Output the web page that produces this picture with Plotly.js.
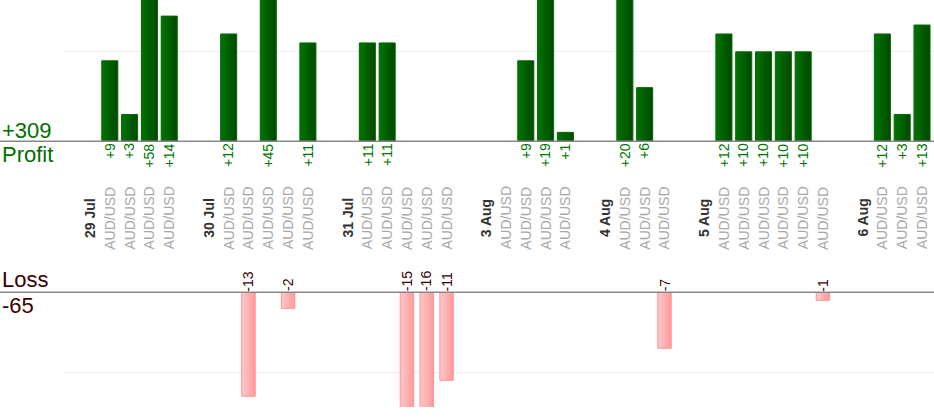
<!DOCTYPE html>
<html>
<head>
<meta charset="utf-8">
<script src="https://cdn.plot.ly/plotly-3.0.1.min.js"></script>
<style>
  html, body { margin: 0; padding: 0; background: #fff; }
  #chart { width: 934px; height: 420px; }
</style>
</head>
<body>
<div id="chart"></div>
<script>
// one slot per column, '' = empty spacer column
var labels = [
  '29 Jul', 'AUD/USD', 'AUD/USD', 'AUD/USD', 'AUD/USD', '',
  '30 Jul', 'AUD/USD', 'AUD/USD', 'AUD/USD', 'AUD/USD', 'AUD/USD', '',
  '31 Jul', 'AUD/USD', 'AUD/USD', 'AUD/USD', 'AUD/USD', 'AUD/USD', '',
  '3 Aug', 'AUD/USD', 'AUD/USD', 'AUD/USD', 'AUD/USD', '',
  '4 Aug', 'AUD/USD', 'AUD/USD', 'AUD/USD', '',
  '5 Aug', 'AUD/USD', 'AUD/USD', 'AUD/USD', 'AUD/USD', 'AUD/USD', 'AUD/USD', '',
  '6 Aug', 'AUD/USD', 'AUD/USD', 'AUD/USD'
]
var profit = [
  null, 9, 3, 58, 14, null,
  null, 12, null, 45, null, 11, null,
  null, 11, 11, null, null, null, null,
  null, null, 9, 19, 1, null,
  null, 20, 6, null, null,
  null, 12, 10, 10, 10, 10, null, null,
  null, 12, 3, 13
]
var loss = [
  null, null, null, null, null, null,
  null, null, -13, null, -2, null, null,
  null, null, null, -15, -16, -11, null,
  null, null, null, null, null, null,
  null, null, null, -7, null,
  null, null, null, null, null, null, -1, null,
  null, null, null, null
]

var xs = labels.map(function(l, i) { return i })

var totalProfit = profit.reduce(function(a, v) { return a + (v || 0) }, 0)
var totalLoss = loss.reduce(function(a, v) { return a + (v || 0) }, 0)

// pixel helpers: plot area is 871 wide starting at 63, 407 tall starting at 0
var H = 407
function py(p) { return (H - p) / H }
function px(p) { return (p - 63) / 871 }

var topBase = py(141.3)
var botBase = py(292.3)
var font = 'Liberation Sans, Arial, sans-serif'

var profitTrace = {
  x: xs,
  y: profit,
  type: 'bar',
  width: 0.81,
  marker: { color: '#005c00', line: { color: '#006a00', width: 1 } },
  xaxis: 'x',
  yaxis: 'y',
  hoverinfo: 'skip'
}

var lossTrace = {
  x: xs,
  y: loss,
  type: 'bar',
  width: 0.68,
  marker: { color: '#ffadad', line: { color: '#ff9494', width: 1 } },
  xaxis: 'x2',
  yaxis: 'y2',
  hoverinfo: 'skip'
}

var annotations = []

labels.forEach(function(l, i) {
  if (!l) return
  var isDate = l !== 'AUD/USD'
  annotations.push({
    x: i, xref: 'x', y: py(218), yref: 'paper',
    text: isDate ? '<b>' + l + '</b>' : l,
    textangle: -90, showarrow: false,
    xanchor: 'center', yanchor: 'middle',
    font: { family: font, size: 14, color: isDate ? '#333333' : '#a8a8a8' }
  })
})

profit.forEach(function(v, i) {
  if (v == null) return
  annotations.push({
    x: i, xref: 'x', y: 0, yref: 'y',
    text: '+' + v, textangle: -90, showarrow: false,
    xanchor: 'center', yanchor: 'top', yshift: 0,
    font: { family: font, size: 14, color: '#007700' }
  })
})

loss.forEach(function(v, i) {
  if (v == null) return
  annotations.push({
    x: i, xref: 'x2', y: 0, yref: 'y2',
    text: String(v), textangle: -90, showarrow: false,
    xanchor: 'center', yanchor: 'bottom', yshift: -1,
    font: { family: font, size: 14, color: '#3a0000' }
  })
})

var bigFont = { family: font, size: 22 }
annotations.push(
  { x: px(0), xref: 'paper', y: py(130), yref: 'paper', text: '+' + totalProfit, showarrow: false,
    xanchor: 'left', yanchor: 'middle', font: Object.assign({}, bigFont, { color: '#007000' }) },
  { x: px(0), xref: 'paper', y: py(154), yref: 'paper', text: 'Profit', showarrow: false,
    xanchor: 'left', yanchor: 'middle', font: Object.assign({}, bigFont, { color: '#007000' }) },
  { x: px(0), xref: 'paper', y: py(280), yref: 'paper', text: 'Loss', showarrow: false,
    xanchor: 'left', yanchor: 'middle', font: Object.assign({}, bigFont, { color: '#3a0000' }) },
  { x: px(0), xref: 'paper', y: py(305), yref: 'paper', text: String(totalLoss), showarrow: false,
    xanchor: 'left', yanchor: 'middle', font: Object.assign({}, bigFont, { color: '#3a0000' }) }
)

var xrange = [-1.363, 42.605]

var layout = {
  width: 934,
  height: 420,
  margin: { l: 63, r: 0, t: 0, b: 13 },
  paper_bgcolor: '#ffffff',
  plot_bgcolor: '#ffffff',
  showlegend: false,
  xaxis: { range: xrange, showgrid: false, zeroline: false, showticklabels: false, ticks: '', anchor: 'y', fixedrange: true },
  xaxis2: { range: xrange, showgrid: false, zeroline: false, showticklabels: false, ticks: '', anchor: 'y2', fixedrange: true },
  yaxis: {
    domain: [topBase, 1], range: [0, 15.8], tickvals: [10], showticklabels: false,
    gridcolor: '#eeeeee', zeroline: false, ticks: '', fixedrange: true
  },
  yaxis2: {
    domain: [0, botBase], range: [-14.34, 0], tickvals: [-10], showticklabels: false,
    gridcolor: '#eeeeee', zeroline: false, ticks: '', fixedrange: true
  },
  shapes: [
    { type: 'line', xref: 'paper', yref: 'paper', x0: px(0), x1: 1, y0: topBase, y1: topBase,
      line: { color: '#888888', width: 1.5 } },
    { type: 'line', xref: 'paper', yref: 'paper', x0: px(0), x1: 1, y0: botBase, y1: botBase,
      line: { color: '#888888', width: 1.5 } }
  ],
  annotations: annotations
}

// left-to-right shading on the bars, like the original
function addGradient(defs, id, from, to) {
  var ns = 'http://www.w3.org/2000/svg'
  var g = document.createElementNS(ns, 'linearGradient')
  g.setAttribute('id', id)
  g.setAttribute('x1', '0'); g.setAttribute('y1', '0')
  g.setAttribute('x2', '1'); g.setAttribute('y2', '0')
  ;[[0, from], [1, to]].forEach(function(s) {
    var stop = document.createElementNS(ns, 'stop')
    stop.setAttribute('offset', s[0])
    stop.setAttribute('stop-color', s[1])
    g.appendChild(stop)
  })
  defs.appendChild(g)
}

Plotly.newPlot('chart', [profitTrace, lossTrace], layout, { displayModeBar: false, staticPlot: true })
  .then(function(gd) {
    var defs = gd.querySelector('.main-svg defs')
    addGradient(defs, 'gradProfit', '#007400', '#004800')
    addGradient(defs, 'gradLoss', '#ffc8c8', '#ff9a9a')
    var traces = gd.querySelectorAll('.barlayer .trace')
    if (traces[0]) traces[0].querySelectorAll('path').forEach(function(p) { p.style.fill = 'url(#gradProfit)' })
    if (traces[1]) traces[1].querySelectorAll('path').forEach(function(p) { p.style.fill = 'url(#gradLoss)' })
  })
</script>
</body>
</html>
